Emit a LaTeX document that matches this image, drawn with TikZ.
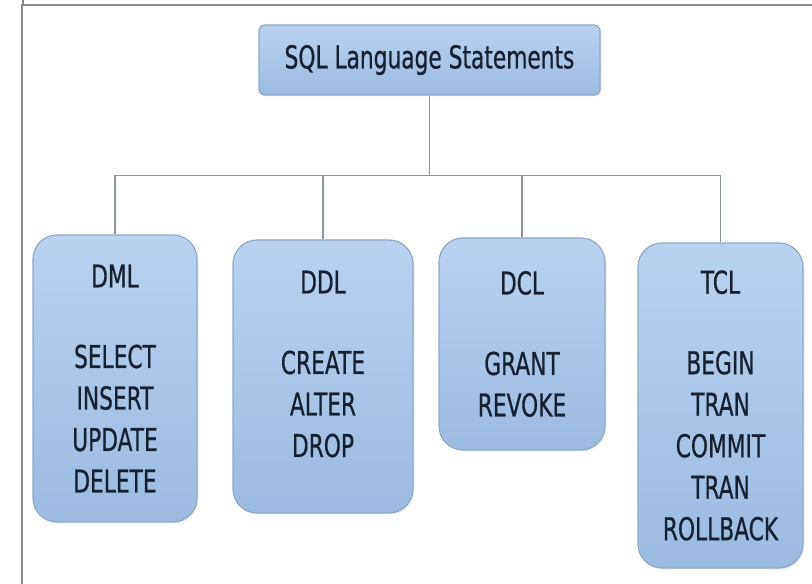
\documentclass[tikz,border=0pt]{standalone}
\usepackage{fontspec}
\setmainfont[FakeStretch=0.69, FakeBold=0.6]{DejaVu Sans}
\usetikzlibrary{shadows}
\definecolor{boxtop}{HTML}{BAD2EE}
\definecolor{boxbot}{HTML}{9CBBE0}
\definecolor{boxline}{HTML}{8FA8C6}
\definecolor{txtcol}{HTML}{17202E}
\definecolor{wirecol}{HTML}{8E949C}
\definecolor{framecol}{HTML}{8A8A8A}
\tikzset{
  sqlbox/.style={draw=boxline, line width=1.2pt, top color=boxtop, bottom color=boxbot,
    rounded corners=24pt, align=center, text=txtcol, inner sep=0pt,
    drop shadow={opacity=0.15, shadow xshift=1.5pt, shadow yshift=-1.5pt}},
  rootbox/.style={sqlbox, rounded corners=6pt},
  wire/.style={draw=wirecol, line width=1.8pt},
  frameline/.style={draw=framecol, line width=2pt}
}
\begin{document}
\begin{tikzpicture}[x=1pt, y=1pt, font=\fontsize{31.5}{41.5}\selectfont]
\useasboundingbox (0,0) rectangle (812,584);
\draw[frameline] (22,0) -- (22,579) -- (812,579);
\draw[frameline] (23,579) -- (23,584);

\node[rootbox, minimum width=341pt, minimum height=70pt] (sql) at (429.5,524) {SQL Language Statements};
\node[sqlbox, minimum width=164pt, minimum height=287pt] (dml) at (115,205.5)
  {DML\\[39pt]SELECT\\INSERT\\UPDATE\\DELETE};
\node[sqlbox, minimum width=180pt, minimum height=273pt] (ddl) at (323,207.5)
  {DDL\\[39pt]CREATE\\ALTER\\DROP\\[-16pt]\mbox{}};
\node[sqlbox, minimum width=166pt, minimum height=212pt] (dcl) at (522,240)
  {DCL\\[39pt]GRANT\\REVOKE};
\node[sqlbox, minimum width=165pt, minimum height=325pt] (tcl) at (720.5,178.5)
  {TCL\\[39pt]BEGIN\\TRAN\\COMMIT\\TRAN\\ROLLBACK};

\coordinate (bus) at ([yshift=-80pt]sql.south);
\foreach \n in {dml,ddl,dcl,tcl}
  \draw[wire] (sql.south) -- (bus) -| (\n.north);
\end{tikzpicture}
\end{document}
